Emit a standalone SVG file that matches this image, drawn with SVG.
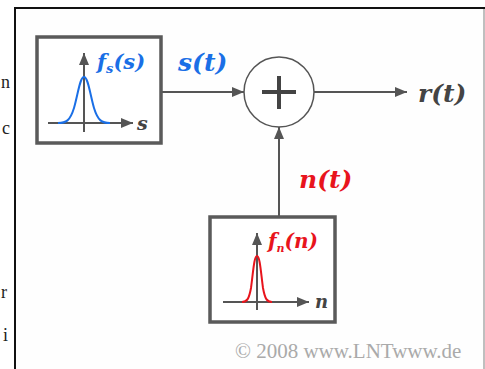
<svg xmlns="http://www.w3.org/2000/svg" width="485" height="369" viewBox="0 0 485 369">
<defs>
<style>
.ln{stroke:#555;stroke-width:2;fill:none}
.box{fill:#fff;stroke:#5a5a5a;stroke-width:3.5}
.lbl{font-family:"DejaVu Serif",serif;font-weight:bold;font-style:italic}
.pg{font-family:"Liberation Serif",serif;font-size:18px;fill:#222}
</style>
<marker id="ah" viewBox="0 0 12 10" refX="12" refY="5" markerWidth="12" markerHeight="10" markerUnits="userSpaceOnUse" orient="auto">
<path d="M0,0 L12,5 L0,10 z" fill="#555"/>
</marker>
<marker id="ahs" viewBox="0 0 12 10" refX="12" refY="5" markerWidth="12" markerHeight="10" markerUnits="userSpaceOnUse" orient="auto">
<path d="M0,0 L12,5 L0,10 z" fill="#555"/>
</marker>
</defs>
<rect width="485" height="369" fill="#fff"/>
<text class="pg" x="1" y="88">n</text>
<text class="pg" x="2" y="134" font-size="12">c</text>
<text class="pg" x="1" y="298">r</text>
<text class="pg" x="3" y="341">i</text>
<rect x="15" y="8" width="469" height="370" fill="#fefefe"/>
<line x1="15" y1="8" x2="15" y2="369" stroke="#111" stroke-width="2"/>
<line x1="14" y1="8" x2="485" y2="8" stroke="#111" stroke-width="2"/>
<line x1="484" y1="9" x2="484" y2="369" stroke="#aaa" stroke-width="1.5"/>
<g id="connectors">
<line class="ln" x1="162" y1="92" x2="244" y2="92" marker-end="url(#ah)"/>
<line class="ln" x1="314" y1="92" x2="407" y2="92" marker-end="url(#ah)"/>
<line class="ln" x1="279" y1="216" x2="279" y2="127" marker-end="url(#ah)"/>
</g>
<g id="source-s">
<rect class="box" x="37" y="37" width="124" height="106"/>
<line class="ln" x1="84" y1="132" x2="84" y2="53" marker-end="url(#ahs)"/>
<line class="ln" x1="48" y1="123" x2="133" y2="123" marker-end="url(#ahs)"/>
<path d="M58,123 C66,123 70,121 74,108 C78,94 80,77 84,77 C88,77 90,94 94,108 C98,121 102,123 110,123" fill="none" stroke="#1a6fe6" stroke-width="2"/>
<text class="lbl" x="97" y="69" font-size="21" fill="#1a6fe6">f<tspan font-size="13" dy="4">s</tspan><tspan dy="-4">(s)</tspan></text>
<text class="lbl" x="137" y="130" font-size="19" fill="#444">s</text>
</g>
<g id="adder">
<circle cx="279" cy="92" r="35" fill="#fff" stroke="#555" stroke-width="1.5"/>
<path d="M262,92 H296 M279,76 V109" stroke="#444" stroke-width="4" fill="none"/>
</g>
<g id="source-n">
<rect class="box" x="210" y="217" width="125" height="105"/>
<line class="ln" x1="257" y1="310" x2="257" y2="233" marker-end="url(#ahs)"/>
<line class="ln" x1="223" y1="302" x2="309" y2="302" marker-end="url(#ahs)"/>
<path d="M242,302 C247,302 249,299 251,288 C253,274 254,256 257,256 C260,256 261,274 263,288 C265,299 267,302 272,302" fill="none" stroke="#e8141c" stroke-width="2"/>
<text class="lbl" x="268" y="248" font-size="20" fill="#e8141c">f<tspan font-size="11" dy="4">n</tspan><tspan dy="-4">(n)</tspan></text>
<text class="lbl" x="315" y="308" font-size="18" fill="#444">n</text>
</g>
<g id="labels">
<text class="lbl" x="178" y="71" font-size="25" fill="#1a6fe6">s(t)</text>
<text class="lbl" x="418" y="102" font-size="25" fill="#444">r(t)</text>
<text class="lbl" x="299" y="188" font-size="25" fill="#e8141c">n(t)</text>
</g>
<text x="235" y="358" font-family="Liberation Serif,serif" font-size="21" fill="#aaa">© 2008 www.LNTwww.de</text>
</svg>
